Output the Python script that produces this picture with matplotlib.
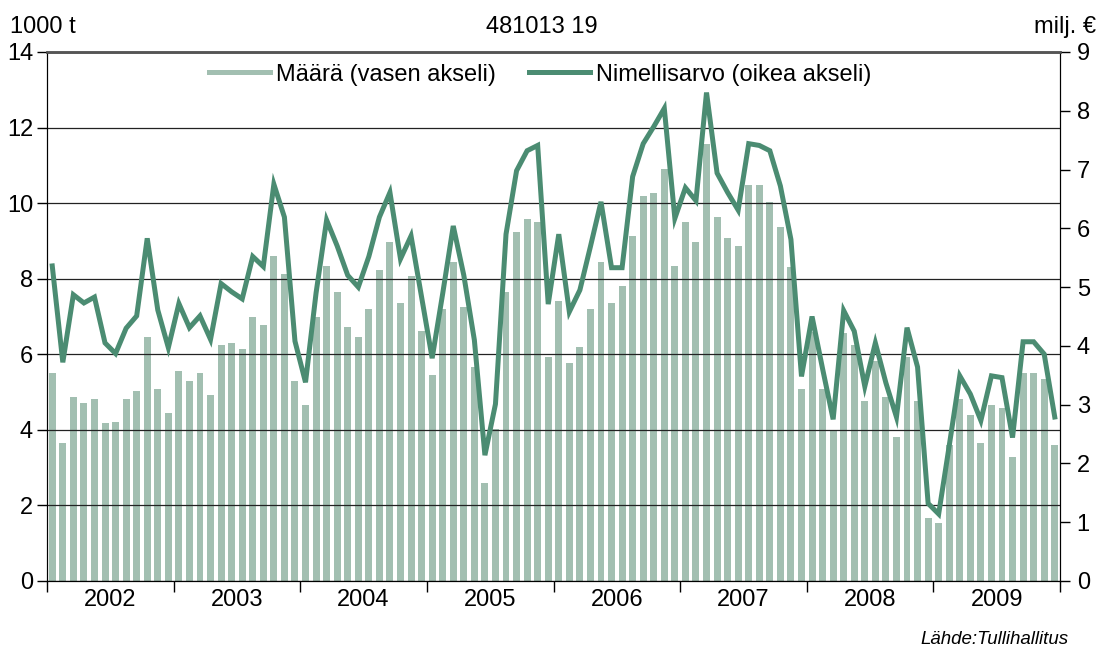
# Monthly volume (bars, left axis) and nominal value (line, right axis), 2002-2009
import matplotlib
matplotlib.use('Agg')
import matplotlib.pyplot as plt
import numpy as np

plt.rcParams['font.family'] = ['Liberation Sans', 'DejaVu Sans']

years = ['2002', '2003', '2004', '2005', '2006', '2007', '2008', '2009']

# Määrä, 1000 t (vasen akseli)
maara = [
    5.50, 3.66, 4.86, 4.71, 4.81, 4.18, 4.22, 4.81, 5.02, 6.45, 5.08, 4.44,
    5.55, 5.29, 5.50, 4.92, 6.25, 6.30, 6.14, 6.99, 6.78, 8.61, 8.13, 5.29,
    4.65, 6.99, 8.34, 7.65, 6.72, 6.45, 7.20, 8.24, 8.98, 7.37, 8.08, 6.62,
    5.45, 7.20, 8.45, 7.25, 5.67, 2.60, 4.02, 7.65, 9.24, 9.57, 9.51, 5.93,
    7.41, 5.77, 6.19, 7.20, 8.45, 7.37, 7.81, 9.14, 10.20, 10.26, 10.90, 8.34,
    9.51, 8.98, 11.56, 9.62, 9.09, 8.87, 10.47, 10.47, 10.04, 9.36, 8.30, 5.08,
    6.60, 5.08, 3.96, 6.55, 6.25, 4.76, 5.83, 4.86, 3.81, 5.92, 4.76, 1.66,
    1.54, 3.60, 4.81, 4.38, 3.66, 4.65, 4.59, 3.29, 5.50, 5.50, 5.34, 3.61,
]

# Nimellisarvo, milj. € (oikea akseli)
arvo = [
    5.36, 3.72, 4.87, 4.73, 4.83, 4.05, 3.87, 4.30, 4.51, 5.83, 4.61, 3.97,
    4.72, 4.31, 4.51, 4.11, 5.06, 4.92, 4.80, 5.52, 5.35, 6.75, 6.19, 4.08,
    3.38, 4.90, 6.14, 5.70, 5.20, 5.00, 5.52, 6.19, 6.61, 5.48, 5.87, 4.83,
    3.79, 4.89, 6.04, 5.20, 4.10, 2.14, 3.01, 5.90, 6.98, 7.32, 7.41, 4.71,
    5.90, 4.58, 4.95, 5.69, 6.45, 5.33, 5.33, 6.88, 7.44, 7.73, 8.04, 6.17,
    6.69, 6.47, 8.31, 6.94, 6.61, 6.31, 7.44, 7.41, 7.32, 6.72, 5.81, 3.48,
    4.50, 3.61, 2.75, 4.60, 4.25, 3.31, 4.05, 3.37, 2.79, 4.31, 3.64, 1.32,
    1.14, 2.30, 3.49, 3.18, 2.73, 3.49, 3.46, 2.44, 4.07, 4.07, 3.86, 2.79,
]

bar_color = '#a2bfb1'
line_color = '#4b8c72'

fig = plt.figure(figsize=(11.08, 6.48), dpi=100)
ax = fig.add_axes([0.0424, 0.1034, 0.9143, 0.8164])
ax2 = ax.twinx()

x = np.arange(len(maara))
ax.bar(x, maara, width=0.66, color=bar_color, zorder=1)
ax2.plot(x, arvo, color=line_color, linewidth=3.6, solid_joinstyle='miter', zorder=3)

# Axis limits and ticks
ax.set_xlim(-0.5, len(maara) - 0.5)
ax.set_ylim(0, 14)
ax2.set_ylim(0, 9)
ax.set_yticks(range(0, 15, 2))
ax2.set_yticks(range(0, 10))

ax.set_xticks(np.arange(-0.5, len(maara), 12))
ax.set_xticklabels([])
ax.set_xticks(np.arange(5.5, len(maara), 12), minor=True)
ax.set_xticklabels(years, minor=True)
ax.tick_params(axis='x', which='major', direction='out', length=8, width=1)
ax.tick_params(axis='x', which='minor', length=0, pad=6, labelsize=17)
ax.tick_params(axis='y', direction='out', length=7, width=1, labelsize=17, pad=3)
ax2.tick_params(axis='y', direction='out', length=7, width=1, labelsize=17, pad=5)

# Grid lines drawn over the bars
ax.set_axisbelow(False)
ax.grid(axis='y', color='#222222', linewidth=0.9)
ax.grid(axis='x', visible=False)

for a in (ax, ax2):
    a.spines['top'].set_color('#555555')
    a.spines['top'].set_linewidth(1.8)
    a.spines['left'].set_color('black')
    a.spines['right'].set_color('black')
    a.spines['bottom'].set_color('black')

ax2.set_zorder(ax.get_zorder() + 1)
ax2.patch.set_visible(False)

# Legend with line handles for both series
h1, = ax.plot([], [], color=bar_color, linewidth=3.6)
h2, = ax2.plot([], [], color=line_color, linewidth=3.6)
ax2.legend([h1, h2], ['Määrä (vasen akseli)', 'Nimellisarvo (oikea akseli)'],
           loc='upper center', bbox_to_anchor=(0.487, 1.018), ncol=2, frameon=False,
           fontsize=17, handlelength=2.6, handletextpad=0.25, columnspacing=1.4)

# Header and footer texts
fig.text(0.009, 0.949, '1000 t', fontsize=17, ha='left', va='baseline')
fig.text(0.489, 0.949, '481013 19', fontsize=17, ha='center', va='baseline')
fig.text(0.989, 0.949, 'milj. €', fontsize=17, ha='right', va='baseline')
fig.text(0.964, 0.006, 'Lähde:Tullihallitus', fontsize=13.5, style='italic',
         ha='right', va='baseline')

fig.savefig('out.png', dpi=100)
